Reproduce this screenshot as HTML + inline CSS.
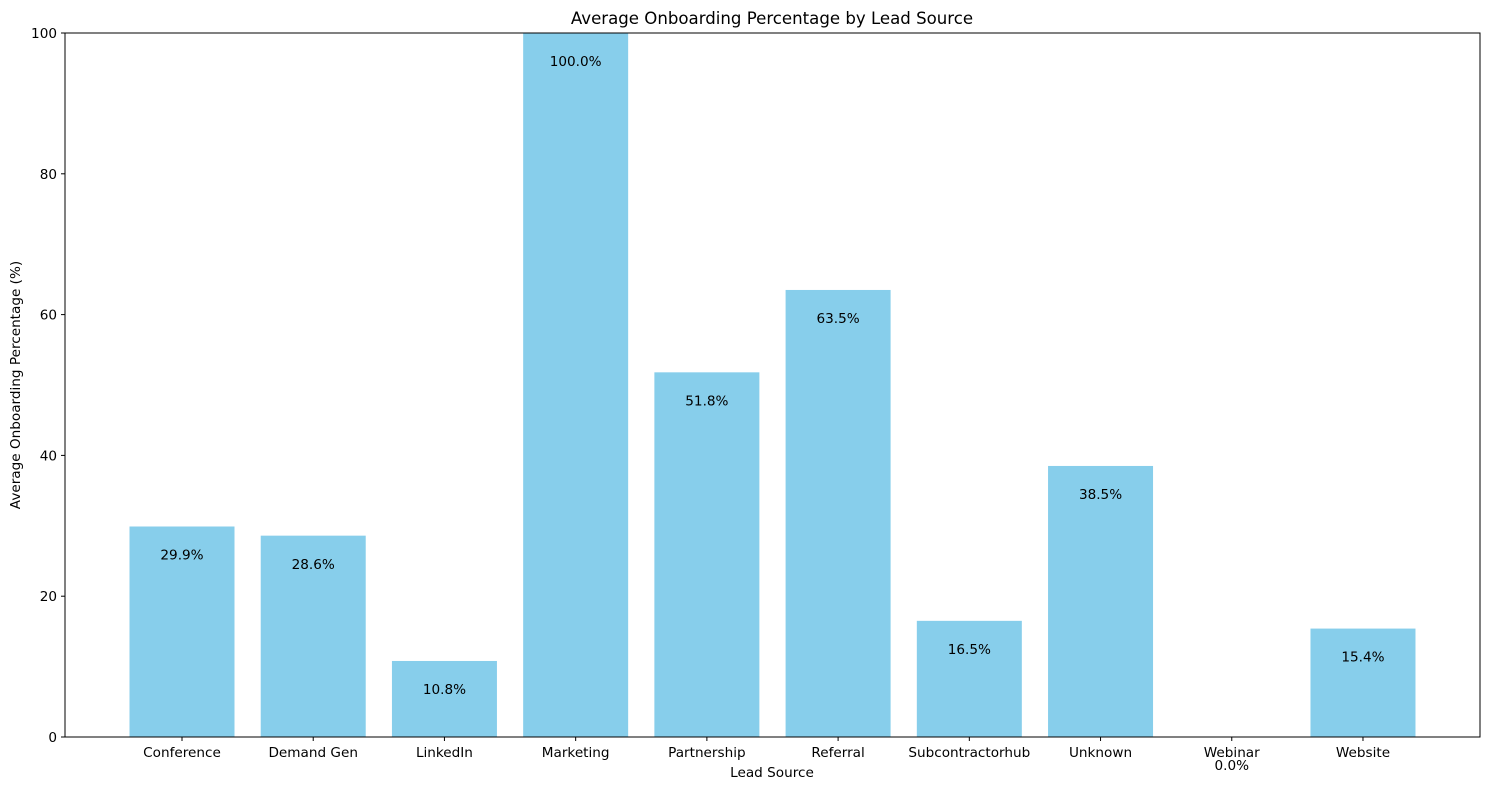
<!DOCTYPE html>
<html><head><meta charset="utf-8"><style>
body{margin:0;background:#fff;}
svg text{font-family:"DejaVu Sans","Liberation Sans",sans-serif;fill:#000;}
</style></head><body>
<svg id="chart" width="1489" height="790">
<text x="772" y="24" text-anchor="middle" font-size="16.6">Average Onboarding Percentage by Lead Source</text>
<text x="772" y="777" text-anchor="middle" font-size="13.6">Lead Source</text>
<text transform="translate(20,385) rotate(-90)" text-anchor="middle" font-size="13.6">Average Onboarding Percentage (%)</text>
<g id="bars"></g><g id="ticks"></g>
<rect x="65" y="33" width="1415" height="704" fill="none" stroke="#000" stroke-width="1"/>
</svg>
<script>
const categories=["Conference","Demand Gen","LinkedIn","Marketing","Partnership","Referral","Subcontractorhub","Unknown","Webinar","Website"];
const values=[29.9,28.6,10.8,100.0,51.8,63.5,16.5,38.5,0.0,15.4];
const yTicks=[0,20,40,60,80,100];
const NS="http://www.w3.org/2000/svg";
const L=65,R=1480,T=33,B=737;
const xs=i=>182+(i)*131.22;
const ys=v=>B-(v/100)*(B-T);
const bw=105;
const fs=13.6;
const bars=document.getElementById('bars'),ticks=document.getElementById('ticks');
function mk(t,a,p){const e=document.createElementNS(NS,t);for(const k in a)e.setAttribute(k,a[k]);p.appendChild(e);return e;}
categories.forEach((c,i)=>{
 const r=mk('rect',{x:xs(i)-bw/2,y:ys(values[i]),width:bw,height:B-ys(values[i]),fill:'#87ceeb'},bars);
 
 
 const lb=mk('text',{x:xs(i),y:ys(values[i]-4)+5,'text-anchor':'middle','font-size':fs},bars);
 lb.textContent=values[i].toFixed(1)+'%';
 
 
 const tk=mk('line',{x1:xs(i),x2:xs(i),y1:B,y2:B+4,stroke:'#000'},ticks);
 
 
 const tl=mk('text',{x:xs(i),y:B+20,'text-anchor':'middle','font-size':fs},ticks);
 tl.textContent=c;
 
 
});
yTicks.forEach(v=>{
 const tk=mk('line',{x1:L-4,x2:L,y1:ys(v),y2:ys(v),stroke:'#000'},ticks);
 
 
 const tl=mk('text',{x:L-8,y:ys(v)+5,'text-anchor':'end','font-size':fs},ticks);
 tl.textContent=v;
 
 
});
</script>
</body></html>
